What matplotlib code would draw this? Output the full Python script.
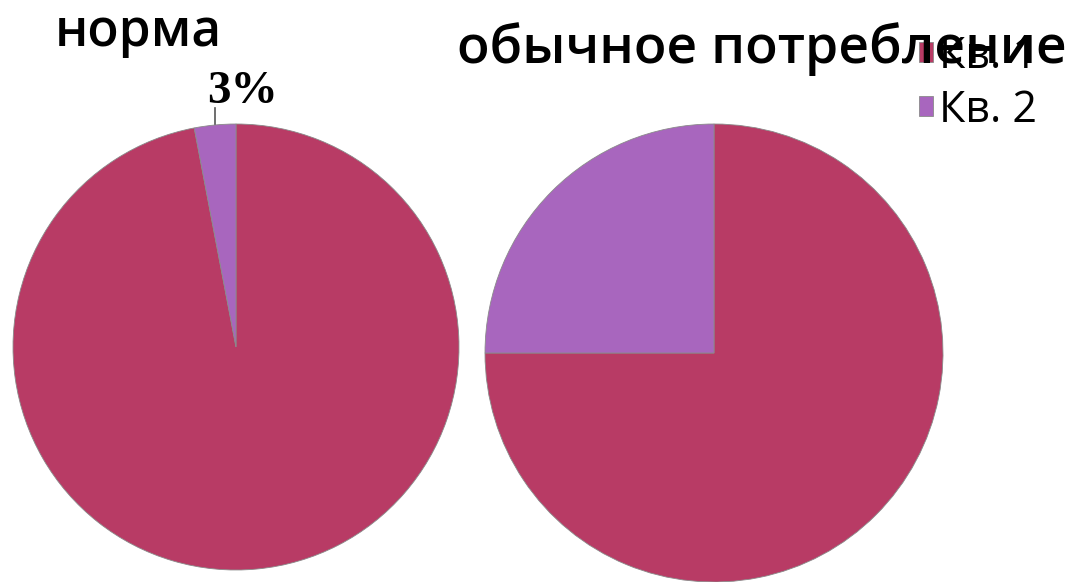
import matplotlib.pyplot as plt

labels = ["Кв. 1", "Кв. 2"]
norma = [97, 3]
obychnoe = [75, 25]
colors = ["#B83B65", "#A866BE"]

W, H = 1086, 582
fig = plt.figure(figsize=(W / 100, H / 100), dpi=100)


def pie_axes(cx, cy, r):
    # cx, cy, r in pixels, y measured from the top
    return fig.add_axes([(cx - r) / W, (H - cy - r) / H, 2 * r / W, 2 * r / H])


wedge_style = dict(edgecolor="#8a8a8a", linewidth=0.6)

ax1 = pie_axes(236, 347, 223)
ax1.pie(norma, colors=colors, startangle=90, counterclock=False,
        radius=1, wedgeprops=wedge_style)
ax1.set_xlim(-1, 1)
ax1.set_ylim(-1, 1)
ax1.set_aspect("equal")
ax1.axis("off")
# leader line and label for the small slice
ax1.plot([-0.095, -0.095], [1.0, 1.07], color="#555555", lw=1.2, clip_on=False)
ax1.text(0.03, 1.095, f"{norma[1]}%", ha="center", va="baseline",
         fontsize=34, fontweight="bold", family="Liberation Serif")

ax2 = pie_axes(714, 353, 229)
wedges, _ = ax2.pie(obychnoe, colors=colors, startangle=90, counterclock=False,
                    radius=1, wedgeprops=wedge_style)
ax2.set_xlim(-1, 1)
ax2.set_ylim(-1, 1)
ax2.set_aspect("equal")
ax2.axis("off")

leg = fig.legend(wedges, labels, loc="upper left",
                 bbox_to_anchor=(902 / W, 1 - 17 / H), frameon=False,
                 handlelength=0.32, handleheight=0.32, handletextpad=0.15,
                 labelspacing=0.22, borderaxespad=0,
                 prop={"family": "Open Sans", "size": 31})
leg.set_zorder(4)

# titles sit above the legend
fig.text(55 / W, 1 - 46 / H, "норма", fontsize=37, fontweight="semibold",
         family="Open Sans", va="baseline", zorder=6)
fig.text(457 / W, 1 - 63 / H, "обычное потребление", fontsize=38.5,
         fontweight="semibold", family="Open Sans", va="baseline", zorder=6)

fig.savefig("out.png", dpi=100)
